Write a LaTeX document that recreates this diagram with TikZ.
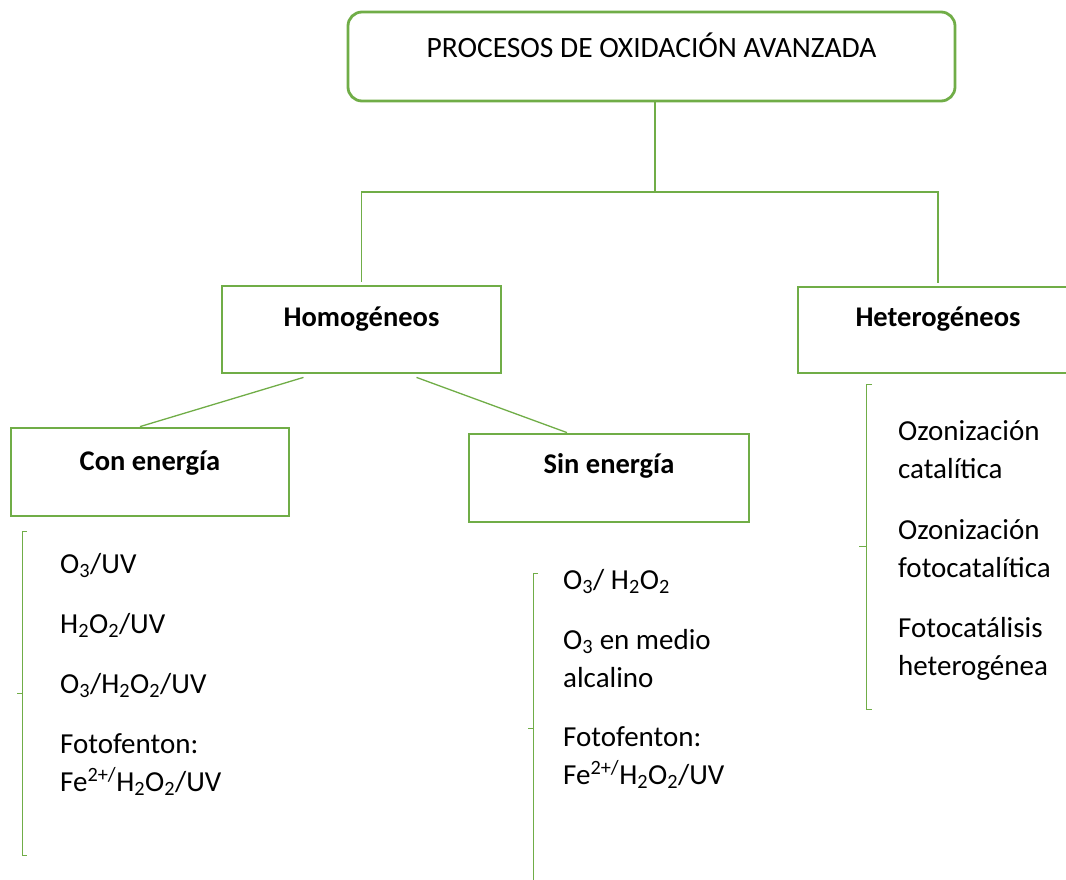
\documentclass[tikz,border=0pt]{standalone}
\usepackage{fontspec}
\setmainfont{Carlito}
\definecolor{verde}{RGB}{112,173,71}
\newcommand{\ind}[1]{\textsubscript{#1}}
\begin{document}
\begin{tikzpicture}[x=1pt,y=-1pt,
  caja/.style={draw=verde,line width=2.8pt,inner sep=0pt,text height=20pt,text depth=27pt,font=\fontsize{28.5}{34}\selectfont\bfseries},
  linea/.style={draw=verde,line width=1.3pt},
  llave/.style={draw=verde,line width=1pt},
  elem/.style={anchor=base west,align=left,inner sep=0pt,font=\fontsize{29}{38}\selectfont}]
\useasboundingbox (0,0) rectangle (1066,879);
% cajas
\node[caja,rounded corners=14pt,minimum width=607pt,minimum height=89pt,font=\fontsize{29.5}{35}\selectfont,text depth=18pt] (poa) at (651.5,56.5) {PROCESOS DE OXIDACIÓN AVANZADA};
\node[caja,minimum width=279pt,minimum height=87pt] (homo) at (361.5,329.5) {Homogéneos};
\node[caja,minimum width=280pt,minimum height=86pt] (hetero) at (938,330) {Heterogéneos};
\node[caja,minimum width=278pt,minimum height=88pt,text depth=24pt] (con) at (150,472) {Con energía};
\node[caja,minimum width=280pt,minimum height=88pt,text depth=30pt] (sin) at (609,478) {Sin energía};
% conectores
\coordinate (rama) at (655,192);
\draw[linea] ([xshift=3.5pt]poa.south) -- (rama);
\draw[linea] ([yshift=3pt]homo.north) |- (rama) -| ([yshift=3pt]hetero.north);
\draw[linea] ([xshift=-58pt,yshift=-3pt]homo.south) -- ([xshift=-10pt]con.north);
\draw[linea] ([xshift=55pt,yshift=-3pt]homo.south) -- ([xshift=-42pt]sin.north);
% llaves
\draw[llave] (27,531) -- (22.5,531) -- (22.5,855) -- (27,855) (22.5,693) -- (17,693);
\draw[llave] (538,573) -- (533,573) -- (533,885) (533,728) -- (528,728);
\draw[llave] (872,384) -- (866,384) -- (866,709) -- (872,709) (866,546) -- (859,546);
% con energia
\node[elem] (c1) at (60,573) {O\ind{3}/UV};
\node[elem] (c2) at (60,633) {H\ind{2}O\ind{2}/UV};
\node[elem] (c3) at (60,693) {O\ind{3}/H\ind{2}O\ind{2}/UV};
\node[elem] (c4) at (60,791) {Fotofenton:\\Fe\textsuperscript{2+/}H\ind{2}O\ind{2}/UV};
% sin energia
\node[elem] (s1) at (563,589) {O\ind{3}/ H\ind{2}O\ind{2}};
\node[elem] (s2) at (563,687) {O\ind{3} en medio\\alcalino};
\node[elem] (s3) at (563,784) {Fotofenton:\\Fe\textsuperscript{2+/}H\ind{2}O\ind{2}/UV};
% heterogeneos
\node[elem] (h1) at (898,478) {Ozonización\\catalítica};
\node[elem] (h2) at (898,577) {Ozonización\\fotocatalítica};
\node[elem] (h3) at (898,675) {Fotocatálisis\\heterogénea};
\end{tikzpicture}
\end{document}
